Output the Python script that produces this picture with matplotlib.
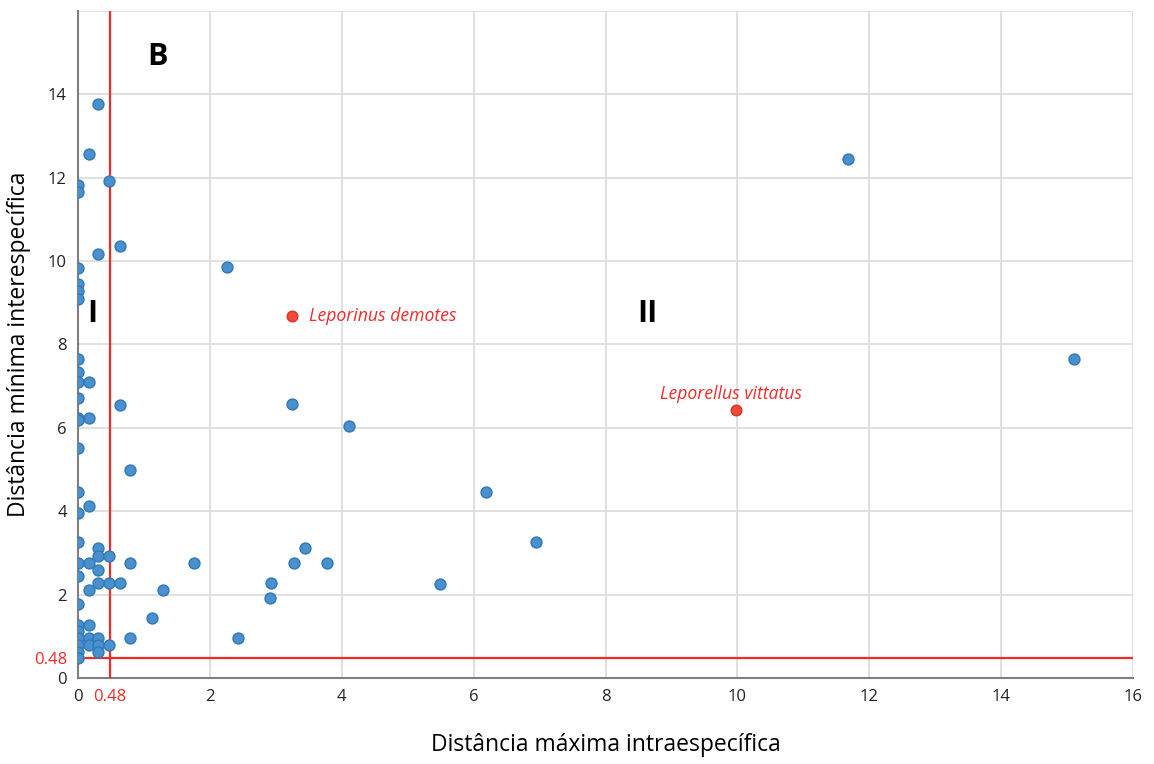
import matplotlib
matplotlib.use("Agg")
import matplotlib.pyplot as plt

plt.rcParams['font.family'] = ['Open Sans', 'DejaVu Sans']

# blue points: maximum intraspecific distance (x) vs minimum interspecific distance (y)
x_blue = ([0.0] * 25 + [0.16] * 9 + [0.31] * 9 + [0.47] * 4 + [0.63] * 3 + [0.79] * 3 +
          [1.12, 1.29, 1.76, 2.26, 2.43, 2.91, 2.93, 3.27, 3.25, 3.44, 3.77, 4.11,
           5.49, 6.19, 6.95, 11.68, 15.1])
y_blue = ([11.83, 11.66, 9.83, 9.46, 9.28, 9.08, 7.65, 7.34, 7.09, 6.72, 6.24, 6.20,
           5.51, 4.46, 3.96, 3.27, 2.76, 2.44, 1.77, 1.28, 1.13, 0.96, 0.79, 0.63, 0.48] +
          [12.56, 7.09, 6.24, 4.12, 2.76, 2.11, 1.28, 0.96, 0.79] +
          [13.76, 10.17, 3.12, 2.93, 2.60, 2.27, 0.96, 0.79, 0.63] +
          [11.92, 2.93, 2.27, 0.79] +
          [10.36, 6.54, 2.27] +
          [4.98, 2.76, 0.96] +
          [1.44, 2.11, 2.76, 9.85, 0.96, 1.93, 2.27, 2.76, 6.57, 3.11, 2.76, 6.04,
           2.25, 4.46, 3.27, 12.46, 7.65])

# highlighted species
red_names = ['Leporinus demotes', 'Leporellus vittatus']
x_red = [3.25, 9.98]
y_red = [8.68, 6.42]

threshold = 0.48

fig = plt.figure(figsize=(11.54, 7.64), dpi=100)
ax = fig.add_axes([0.0676, 0.1126, 0.9142, 0.873])

ax.scatter(x_blue, y_blue, s=62, color='#4a90cc', edgecolor='#2f79b8', linewidth=1.0, zorder=4)
ax.scatter(x_red, y_red, s=58, color='#f04a3a', edgecolor='#e03020', linewidth=1.0, zorder=4)

ax.axvline(threshold, color='#ee2b2b', lw=1.6, zorder=3)
ax.axhline(threshold, color='#ee2b2b', lw=1.6, zorder=3)

ax.set_xlim(0, 16)
ax.set_ylim(0, 16)
ax.set_xticks([0, threshold] + list(range(2, 17, 2)))
ax.set_xticklabels(['0', '0.48'] + [str(v) for v in range(2, 17, 2)])
ax.set_yticks([0, threshold] + list(range(2, 17, 2)))
ax.set_yticklabels(['0', '0.48'] + [str(v) for v in range(2, 15, 2)] + [''])
ax.tick_params(length=0, labelsize=12, colors='#222222', pad=8)
ax.get_xticklabels()[1].set_color('#ee2b2b')
ax.get_yticklabels()[1].set_color('#ee2b2b')

ax.grid(True, color='#dddddd', lw=1.3, zorder=0)
ax.set_axisbelow(True)
for side in ['top', 'right']:
    ax.spines[side].set_visible(False)
for side in ['left', 'bottom']:
    ax.spines[side].set_color('#7f7f7f')
    ax.spines[side].set_linewidth(1.5)

ax.set_xlabel('Distância máxima intraespecífica', fontsize=16.5, labelpad=20)
ax.set_ylabel('Distância mínima interespecífica', fontsize=16.5, labelpad=2)

ax.text(1.2, 14.9, 'B', fontsize=22, fontweight='bold', ha='center', va='center')
ax.text(0.22, 8.73, 'I', fontsize=22, fontweight='bold', ha='center', va='center')
ax.text(8.63, 8.73, 'II', fontsize=22, fontweight='bold', ha='center', va='center')

ax.text(3.5, 8.68, red_names[0], color='#ee2b2b', fontsize=12.7, style='italic',
        ha='left', va='center')
ax.text(9.9, 6.82, red_names[1], color='#ee2b2b', fontsize=12.7, style='italic',
        ha='center', va='center')

fig.savefig('out.png', dpi=100)
